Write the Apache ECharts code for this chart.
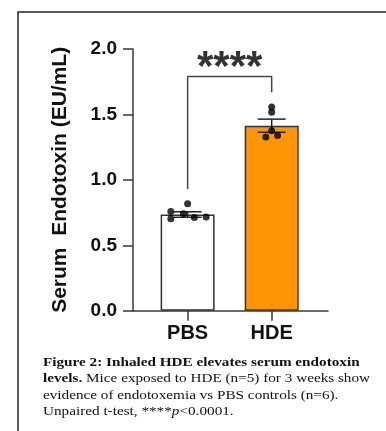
<!DOCTYPE html>
<html>
<head>
<meta charset="utf-8">
<script src="https://cdn.jsdelivr.net/npm/echarts@6/dist/echarts.min.js"></script>
<style>
html,body{margin:0;padding:0;background:#fff;}
#c{width:386px;height:431px;}
</style>
</head>
<body>
<div id="c"></div>
<script>
const categories = ['PBS', 'HDE'];
const categoryPos = [1, 2];
const means = [0.735, 1.414];
const sems = [0.021, 0.05];
const pbsPoints = [0.817, 0.758, 0.702, 0.740, 0.712, 0.717];
const pbsJitter = [0, -0.2, -0.2, -0.05, 0.08, 0.22];
const hdePoints = [1.557, 1.516, 1.376, 1.328, 1.338];
const hdeJitter = [0, 0, 0, -0.07, 0.07];
const bracketLevels = [0.93, 1.79, 1.79, 1.67];
const starLevel = 1.93;
const sigText = '****';
const yAxisName = 'Serum  Endotoxin (EU/mL)';
const barColors = ['#ffffff', '#ff9406'];

const axisColor = '#3a3a3a';
const chart = echarts.init(document.getElementById('c'), null, {renderer: 'canvas'});

const pointData = [];
pbsPoints.forEach((v, i) => pointData.push([categoryPos[0] + pbsJitter[i], v]));
hdePoints.forEach((v, i) => pointData.push([categoryPos[1] + hdeJitter[i], v]));

const errData = means.map((m, i) => [categoryPos[i], m - sems[i], m + sems[i]]);

chart.setOption({
  animation: false,
  backgroundColor: '#fff',
  grid: {left: 133, top: 49, right: 58, bottom: 120.3, containLabel: false},
  xAxis: {
    type: 'value', min: 0.35, max: 2.67,
    axisLine: {show: true, onZero: false, lineStyle: {color: axisColor, width: 1.5}},
    axisTick: {show: true, customValues: categoryPos, length: 10, lineStyle: {color: axisColor, width: 1.5}},
    axisLabel: {
      customValues: categoryPos,
      formatter: v => categories[categoryPos.indexOf(Math.round(v))] || '',
      fontFamily: 'Liberation Sans, Arial', fontWeight: 'bold', fontSize: 20, color: '#111', margin: 13
    },
    splitLine: {show: false}
  },
  yAxis: {
    type: 'value', min: 0, max: 2, interval: 0.5,
    name: yAxisName, nameLocation: 'middle', nameGap: 62,
    nameTextStyle: {fontFamily: 'Liberation Sans, Arial', fontWeight: 'bold', fontSize: 21, color: '#111'},
    axisLine: {show: true, lineStyle: {color: axisColor, width: 1.5}},
    axisTick: {show: true, length: 10, lineStyle: {color: axisColor, width: 1.5}},
    axisLabel: {
      formatter: v => v.toFixed(1),
      fontFamily: 'Liberation Sans, Arial', fontWeight: 'bold', fontSize: 19, color: '#111', margin: 16
    },
    splitLine: {show: false}
  },
  series: [
    {
      type: 'bar', barWidth: 54,
      data: means.map((m, i) => ({value: [categoryPos[i], m], itemStyle: {color: barColors[i]}})),
      itemStyle: {borderColor: '#333', borderWidth: 1.5},
      z: 2
    },
    {
      type: 'custom',
      data: errData,
      renderItem: function (params, api) {
        const x = api.value(0);
        const lo = api.coord([x, api.value(1)]);
        const hi = api.coord([x, api.value(2)]);
        const w = 14;
        const st = {stroke: '#222', lineWidth: 1.5};
        return {type: 'group', children: [
          {type: 'line', shape: {x1: lo[0], y1: lo[1], x2: hi[0], y2: hi[1]}, style: st},
          {type: 'line', shape: {x1: hi[0] - w, y1: hi[1], x2: hi[0] + w, y2: hi[1]}, style: st},
          {type: 'line', shape: {x1: lo[0] - w, y1: lo[1], x2: lo[0] + w, y2: lo[1]}, style: st}
        ]};
      },
      z: 3
    },
    {
      type: 'scatter', symbol: 'circle', symbolSize: 7,
      itemStyle: {color: '#000'},
      data: pointData, z: 4
    },
    {
      type: 'line', symbol: 'none',
      data: [[categoryPos[0], bracketLevels[0]], [categoryPos[0], bracketLevels[1]], [categoryPos[1], bracketLevels[2]], [categoryPos[1], bracketLevels[3]]],
      lineStyle: {color: '#444', width: 1.5}, z: 3
    },
    {
      type: 'scatter', symbolSize: 1, itemStyle: {color: 'rgba(0,0,0,0)'},
      data: [[(categoryPos[0] + categoryPos[1]) / 2, starLevel]],
      label: {show: true, position: 'inside', formatter: sigText, fontFamily: 'Liberation Sans, Arial',
        fontWeight: 'bold', fontSize: 42, color: '#000', offset: [0, 10]},
      z: 5
    }
  ],
  graphic: [
    {type: 'rect', shape: {x: 18, y: 12, width: 420, height: 440}, style: {fill: 'none', stroke: '#222', lineWidth: 1.5}, silent: true},
    {
      type: 'text', x: 43, y: 354, scaleX: 1.17,
      style: {
        text: '{b|Figure 2: Inhaled HDE elevates serum endotoxin}\n{b|levels.}{n| Mice exposed to HDE (n=5) for 3 weeks show}\n{n|evidence of endotoxemia vs PBS controls (n=6).}\n{n|Unpaired t-test, ****}{i|p}{n|<0.0001.}',
        rich: {
          b: {fontFamily: 'Liberation Serif', fontWeight: 'bold', fontSize: 13, lineHeight: 16.5, fill: '#111'},
          n: {fontFamily: 'Liberation Serif', fontSize: 13, lineHeight: 16.5, fill: '#111'},
          i: {fontFamily: 'Liberation Serif', fontStyle: 'italic', fontSize: 13, lineHeight: 16.5, fill: '#111'}
        }
      }
    }
  ]
});
</script>
</body>
</html>
